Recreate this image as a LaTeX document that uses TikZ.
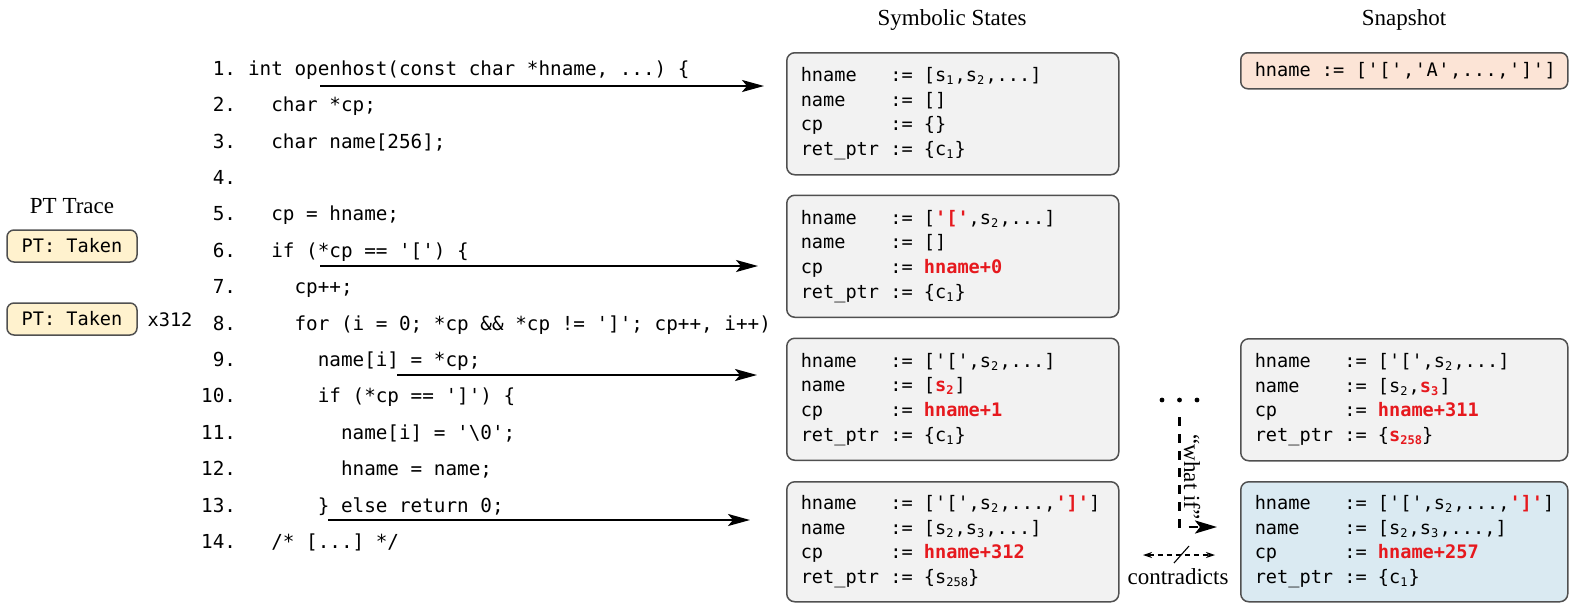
\documentclass[tikz,border=0pt]{standalone}
\usepackage{fontspec}
\setmainfont{Liberation Serif}
\setmonofont{DejaVu Sans Mono}
\usetikzlibrary{arrows.meta}
\definecolor{boxgray}{RGB}{242,242,242}
\definecolor{boxedge}{RGB}{80,80,80}
\definecolor{peach}{RGB}{252,228,214}
\definecolor{ptyellow}{RGB}{255,242,206}
\definecolor{snapblue}{RGB}{218,234,242}
\definecolor{hlred}{RGB}{230,25,30}
\newcommand\hl[1]{\textcolor{hlred}{\bfseries #1}}
% single-digit subscript, padded; multi-digit subscript, natural width
\newcommand\sbs[1]{\makebox[8.4pt][l]{\raisebox{-3pt}{\fontsize{12}{12}\selectfont #1}}}
\newcommand\sbm[1]{\raisebox{-3pt}{\fontsize{12}{12}\selectfont #1}}
\newcommand\kv[2]{\mbox{\makebox[4.816em][l]{#1}\makebox[1.806em][l]{:=}#2}}
\def\spreadc#1{\ifx#1\relax\else\makebox[11.8pt]{#1}\expandafter\spreadc\fi}
\begin{document}
\begin{tikzpicture}[x=1pt,y=-1pt,
  stbox/.style={draw=boxedge, line width=1.5pt, rounded corners=8pt, fill=boxgray,
    anchor=north west, minimum height=122pt, text width=304pt, inner xsep=14pt,
    inner ysep=0pt, align=left, font=\fontsize{18.6}{24.7}\selectfont\ttfamily},
  snbox/.style={stbox, text width=299pt},
  ptbox/.style={draw=boxedge, line width=1.5pt, rounded corners=7pt, fill=ptyellow,
    minimum width=130pt, minimum height=32pt, inner sep=0pt,
    font=\fontsize{18.6}{18.6}\selectfont\ttfamily},
  codeline/.style={anchor=base west, inner sep=0pt, font=\fontsize{19.3}{19.3}\selectfont\ttfamily},
  lnum/.style={anchor=base east, inner sep=0pt, font=\fontsize{19.3}{19.3}\selectfont\ttfamily},
  title/.style={inner sep=0pt, font=\fontsize{23}{23}\selectfont},
  flow/.style={line width=2.2pt, -{Stealth[length=22pt,width=12pt,inset=5pt]}},
  whatif/.style={line width=2.6pt, dash pattern=on 9pt off 8pt, -{Stealth[length=22pt,width=13pt,inset=5pt]}},
  contra/.style={line width=1.1pt, dash pattern=on 5pt off 4pt, {Stealth[length=9pt,width=6pt]}-{Stealth[length=9pt,width=6pt]}}
]
\useasboundingbox (0,0) rectangle (1570,603);

% titles
\node[title] (tpt) at (72,206) {PT Trace};
\node[title] (tss) at (952,20) {Symbolic States};
\node[title] (tsn) at (1404,20) {Snapshot};

% PT trace
\node[ptbox] (pt1) at (72,246) {PT: Taken};
\node[ptbox] (pt2) at (72,319) {PT: Taken};
\node[inner sep=0pt, font=\fontsize{18.6}{18.6}\selectfont\ttfamily] (x312) at (170,320) {x312};

% line numbers
\foreach \i in {1,...,14}
  \node[lnum] (n\i) at (236.2,{75.3+(\i-1)*36.4}) {\i.};

% code
\node[codeline] (c1)  at ({213+3*11.62},{75.3+0*36.4})  {int openhost(const char *hname, ...) \{};
\node[codeline] (c2)  at ({213+5*11.62},{75.3+1*36.4})  {char *cp;};
\node[codeline] (c3)  at ({213+5*11.62},{75.3+2*36.4})  {char name[256];};
\node[codeline] (c5)  at ({213+5*11.62},{75.3+4*36.4})  {cp = hname;};
\node[codeline] (c6)  at ({213+5*11.62},{75.3+5*36.4})  {if (*cp == '[') \{};
\node[codeline] (c7)  at ({213+7*11.62},{75.3+6*36.4})  {cp++;};
\node[codeline] (c8)  at ({213+7*11.62},{75.3+7*36.4})  {for (i = 0; *cp \&\& *cp != ']'; cp++, i++)};
\node[codeline] (c9)  at ({213+9*11.62},{75.3+8*36.4})  {name[i] = *cp;};
\node[codeline] (c10) at ({213+9*11.62},{75.3+9*36.4})  {if (*cp == ']') \{};
\node[codeline] (c11) at ({213+11*11.62},{75.3+10*36.4}) {name[i] = '\textbackslash 0';};
\node[codeline] (c12) at ({213+11*11.62},{75.3+11*36.4}) {hname = name;};
\node[codeline] (c13) at ({213+9*11.62},{75.3+12*36.4}) {\} else return 0;};
\node[codeline] (c14) at ({213+5*11.62},{75.3+13*36.4}) {/* [...] */};

% symbolic states
\node[stbox] (s1) at (786,52) {%
  \kv{hname}{[s\sbs{1},s\sbs{2},...]}\\
  \kv{name}{[]}\\
  \kv{cp}{\{\}}\\
  \kv{ret\_ptr}{\{c\sbs{1}\}}};
\node[stbox] (s2) at (786,194.5) {%
  \kv{hname}{[\hl{'['},s\sbs{2},...]}\\
  \kv{name}{[]}\\
  \kv{cp}{\hl{hname+0}}\\
  \kv{ret\_ptr}{\{c\sbs{1}\}}};
\node[stbox] (s3) at (786,337.5) {%
  \kv{hname}{['[',s\sbs{2},...]}\\
  \kv{name}{[\hl{s\sbs{2}}]}\\
  \kv{cp}{\hl{hname+1}}\\
  \kv{ret\_ptr}{\{c\sbs{1}\}}};
\node[stbox, minimum height=120pt] (s4) at (786,481) {%
  \kv{hname}{['[',s\sbs{2},...,\hl{']'}]}\\
  \kv{name}{[s\sbs{2},s\sbs{3},...]}\\
  \kv{cp}{\hl{hname+312}}\\
  \kv{ret\_ptr}{\{s\sbm{258}\}}};

% snapshot
\node[draw=boxedge, line width=1.5pt, rounded corners=7pt, fill=peach, anchor=north west,
  minimum height=36pt, text width=299pt, inner xsep=14pt, inner ysep=0pt, align=left,
  font=\fontsize{18.6}{18.6}\selectfont\ttfamily] (sn0) at (1240,52)
  {\mbox{\makebox[3.612em][l]{hname}\makebox[1.806em][l]{:=}\spreadc['[','A',...,']']\relax}};
\node[snbox] (snA) at (1240,338) {%
  \kv{hname}{['[',s\sbs{2},...]}\\
  \kv{name}{[s\sbs{2},\hl{s\sbs{3}}]}\\
  \kv{cp}{\hl{hname+311}}\\
  \kv{ret\_ptr}{\{\hl{s\sbm{258}}\}}};
\node[snbox, fill=snapblue, minimum height=120pt] (snB) at (1240,481) {%
  \kv{hname}{['[',s\sbs{2},...,\hl{']'}]}\\
  \kv{name}{[s\sbs{2},s\sbs{3},...,]}\\
  \kv{cp}{\hl{hname+257}}\\
  \kv{ret\_ptr}{\{c\sbs{1}\}}};

% flow arrows from code to states
\coordinate (a1) at (320,86);
\coordinate (a2) at (320,266);
\coordinate (a3) at (397,375);
\coordinate (a4) at (328,520);
\draw[flow, shorten >=22pt] (a1) -- (a1 -| s1.west);
\draw[flow, shorten >=28pt] (a2) -- (a2 -| s2.west);
\draw[flow, shorten >=29pt] (a3) -- (a3 -| s3.west);
\draw[flow, shorten >=36pt] (a4) -- (a4 -| s4.west);

% "what if" exploration
\fill (1162,400) circle (2.4pt) (1179.5,400) circle (2.4pt) (1197,400) circle (2.4pt);
\coordinate (wstart) at (1179.5,417);
\coordinate (wend) at (1240,527);
\draw[whatif, shorten >=23pt] (wstart) |- (wend);
\node[title, rotate=-90] (wif) at (1192,477) {``what if''};

% contradicts
\coordinate (cl) at (1118,555);
\coordinate (cr) at (1240,555);
\draw[contra, shorten <=25pt, shorten >=25pt] (cl) -- (cr);
\draw[line width=1.1pt] (1174,563) -- (1189,546);
\node[title] (ctr) at (1178,577) {contradicts};
\end{tikzpicture}
\end{document}
